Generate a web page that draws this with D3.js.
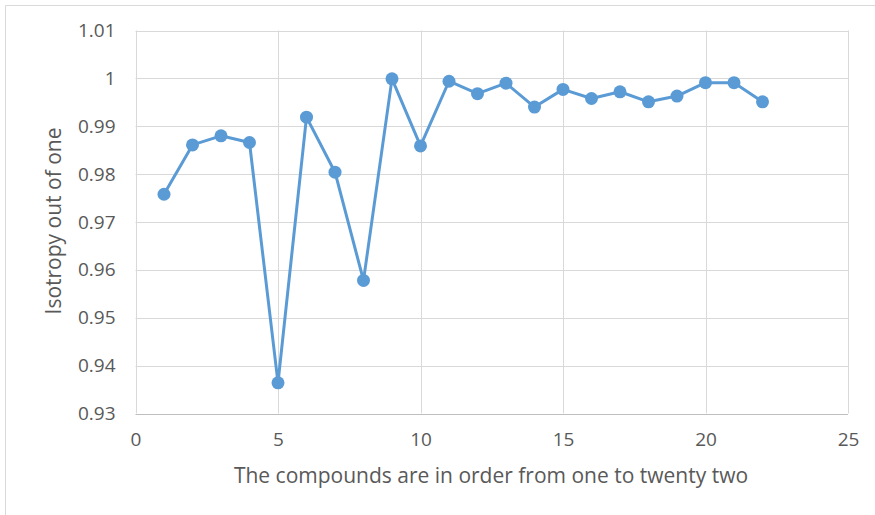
<!DOCTYPE html>
<html>
<head>
<meta charset="utf-8">
<script src="https://cdn.jsdelivr.net/npm/d3@7"></script>
<style>
  html, body { margin: 0; padding: 0; background: #fff; }
  svg { display: block; font-family: "Open Sans", "Noto Sans", sans-serif; }
</style>
</head>
<body>
<svg id="chart" width="875" height="515"></svg>
<script>
// Compound index (1..22) and its isotropy score
const compounds = [1, 2, 3, 4, 5, 6, 7, 8, 9, 10, 11, 12, 13, 14, 15, 16, 17, 18, 19, 20, 21, 22];
const isotropy = [0.9758, 0.9861, 0.9880, 0.9866, 0.9364, 0.9919, 0.9804, 0.9578, 0.9999, 0.9859, 0.9994,
                  0.9968, 0.9990, 0.9940, 0.9977, 0.9958, 0.9972, 0.9951, 0.9963, 0.9991, 0.9991, 0.9951];
const xTicks = [0, 5, 10, 15, 20, 25];
const yTicks = [0.93, 0.94, 0.95, 0.96, 0.97, 0.98, 0.99, 1.00, 1.01];
const xTitle = "The compounds are in order from one to twenty two";
const yTitle = "Isotropy out of one";

const svg = d3.select("#chart");
const plotLeft = 135.5, plotRight = 848, plotTop = 30.5, plotBottom = 413.5;

const x = d3.scaleLinear().domain([0, 25]).range([plotLeft, plotRight]);
const y = d3.scaleLinear().domain([0.93, 1.01]).range([plotBottom, plotTop]);

// Outer chart frame
svg.append("path")
  .attr("d", `M5.5,515 L5.5,5.5 L875,5.5`)
  .attr("fill", "none").attr("stroke", "#d9d9d9").attr("stroke-width", 1);

// Gridlines
svg.append("g").selectAll("line").data(yTicks.slice(1)).join("line")
  .attr("x1", plotLeft).attr("x2", plotRight)
  .attr("y1", d => Math.round(y(d)) + 0.5).attr("y2", d => Math.round(y(d)) + 0.5)
  .attr("stroke", "#d9d9d9").attr("stroke-width", 1);
svg.append("g").selectAll("line").data(xTicks).join("line")
  .attr("y1", plotTop).attr("y2", plotBottom)
  .attr("x1", d => Math.round(x(d)) + 0.5).attr("x2", d => Math.round(x(d)) + 0.5)
  .attr("stroke", "#d9d9d9").attr("stroke-width", 1);

// Bottom axis line
svg.append("line")
  .attr("x1", plotLeft).attr("x2", plotRight)
  .attr("y1", Math.round(y(0.93)) + 0.5).attr("y2", Math.round(y(0.93)) + 0.5)
  .attr("stroke", "#bfbfbf").attr("stroke-width", 1);

// Axes (labels only)
const xAxis = d3.axisBottom(x).tickValues(xTicks).tickSize(0).tickPadding(19).tickFormat(d3.format("d"));
const gx = svg.append("g").attr("transform", `translate(0,${plotBottom})`).call(xAxis);
gx.select(".domain").remove();
gx.selectAll("text").attr("fill", "#595959").attr("font-size", 19).attr("font-family", "Open Sans, sans-serif");

const yAxis = d3.axisLeft(y).tickValues(yTicks).tickSize(0).tickPadding(20)
  .tickFormat(d => d === 1 ? "1" : d3.format(".2f")(d));
const gy = svg.append("g").attr("transform", `translate(${plotLeft},0)`).call(yAxis);
gy.select(".domain").remove();
gy.selectAll("text").attr("fill", "#595959").attr("font-size", 19).attr("font-family", "Open Sans, sans-serif");

// Axis titles
svg.append("text")
  .attr("x", 491).attr("y", 483)
  .attr("text-anchor", "middle").attr("fill", "#595959").attr("font-size", 21)
  .text(xTitle);
svg.append("text")
  .attr("transform", `translate(61,${(plotTop + plotBottom) / 2 - 1}) rotate(-90)`)
  .attr("text-anchor", "middle").attr("fill", "#595959").attr("font-size", 21)
  .text(yTitle);

// Series line and markers
const pts = compounds.map((c, i) => [c, isotropy[i]]);
svg.append("path")
  .datum(pts)
  .attr("fill", "none").attr("stroke", "#5b9bd5").attr("stroke-width", 3)
  .attr("stroke-linejoin", "round")
  .attr("d", d3.line().x(d => x(d[0])).y(d => y(d[1])));
svg.append("g").selectAll("circle").data(pts).join("circle")
  .attr("cx", d => x(d[0])).attr("cy", d => y(d[1])).attr("r", 6.5)
  .attr("fill", "#5b9bd5");
</script>
</body>
</html>
